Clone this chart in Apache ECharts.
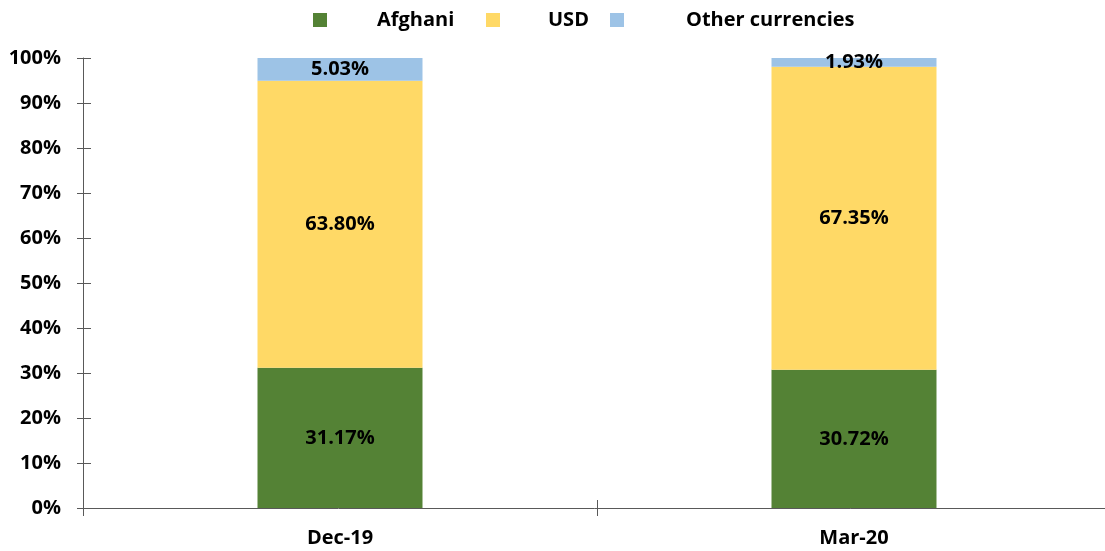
<!DOCTYPE html>
<html>
<head>
<meta charset="utf-8">
<script src="https://cdn.jsdelivr.net/npm/echarts@6/dist/echarts.min.js"></script>
<style>
  html, body { margin: 0; padding: 0; background: #fff; }
  #chart { width: 1105px; height: 551px; }
</style>
</head>
<body>
<div id="chart"></div>
<script>
// Currency composition of deposits (share of total, %)
const categories = ['Dec-19', 'Mar-20'];
const afghani = [31.17, 30.72];
const usd = [63.80, 67.35];
const otherCurrencies = [5.03, 1.93];
const seriesNames = ['Afghani', 'USD', 'Other currencies'];
const seriesColors = ['#548235', '#FFD966', '#9DC3E6'];

const FONT = 'Open Sans';
const AXIS_COLOR = '#595959';

const chart = echarts.init(document.getElementById('chart'), null, { renderer: 'canvas' });

const labelStyle = {
  show: true,
  position: 'inside',
  formatter: p => p.value.toFixed(2) + '%',
  color: '#000',
  fontFamily: FONT,
  fontWeight: 'bold',
  fontSize: 20
};

function legendItem(name, left, textGap) {
  return {
    data: [name],
    left: left,
    top: 5,
    itemWidth: 14,
    itemHeight: 14,
    icon: 'rect',
    selectedMode: false,
    textStyle: {
      fontFamily: FONT,
      fontWeight: 'bold',
      fontSize: 20,
      color: '#000',
      padding: [0, 0, 0, textGap]
    }
  };
}

chart.setOption({
  animation: false,
  color: seriesColors,
  legend: [
    legendItem(seriesNames[0], 308, 45),
    legendItem(seriesNames[1], 481, 43),
    legendItem(seriesNames[2], 605, 57)
  ],
  // plot area runs slightly past the right edge of the canvas
  grid: {
    left: 83, width: 1028, top: 58, bottom: 43,
    containLabel: false,
    outerBoundsMode: 'none'
  },
  xAxis: [
    {
      type: 'category',
      data: categories,
      boundaryGap: true,
      axisLine: { show: true, lineStyle: { color: AXIS_COLOR, width: 1 } },
      axisTick: { show: true, length: 8, lineStyle: { color: AXIS_COLOR } },
      axisLabel: {
        margin: 20,
        color: '#000',
        fontFamily: FONT,
        fontWeight: 'bold',
        fontSize: 20
      },
      splitLine: { show: false }
    },
    {
      // inner half of the crossing tick marks
      type: 'category',
      data: categories,
      position: 'bottom',
      boundaryGap: true,
      axisLine: { show: false },
      axisTick: { show: true, inside: true, length: 8, lineStyle: { color: AXIS_COLOR } },
      axisLabel: { show: false },
      splitLine: { show: false }
    }
  ],
  yAxis: [
    {
      type: 'value',
      min: 0,
      max: 100,
      interval: 10,
      axisLine: { show: true, lineStyle: { color: AXIS_COLOR, width: 1 } },
      axisTick: { show: true, length: 6, lineStyle: { color: AXIS_COLOR } },
      axisLabel: {
        formatter: '{value}%',
        margin: 22,
        color: '#000',
        fontFamily: FONT,
        fontWeight: 'bold',
        fontSize: 20
      },
      splitLine: { show: false }
    },
    {
      // inner half of the crossing tick marks
      type: 'value',
      min: 0,
      max: 100,
      interval: 10,
      position: 'left',
      axisLine: { show: false },
      axisTick: { show: true, inside: true, length: 8, lineStyle: { color: AXIS_COLOR } },
      axisLabel: { show: false },
      splitLine: { show: false }
    }
  ],
  series: [
    {
      name: seriesNames[0], type: 'bar', stack: 'total', data: afghani,
      barWidth: '32.1%', label: labelStyle, z: 1
    },
    {
      name: seriesNames[1], type: 'bar', stack: 'total', data: usd,
      barWidth: '32.1%', label: labelStyle, z: 1
    },
    {
      name: seriesNames[2], type: 'bar', stack: 'total', data: otherCurrencies,
      barWidth: '32.1%', label: labelStyle, z: 1
    }
  ]
});
</script>
</body>
</html>
